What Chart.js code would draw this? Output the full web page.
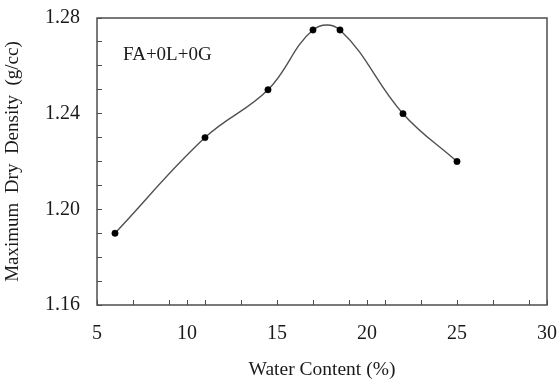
<!DOCTYPE html>
<html>
<head>
<meta charset="utf-8">
<script src="https://cdn.jsdelivr.net/npm/chart.js@4"></script>
<style>
  html, body { margin: 0; padding: 0; background: #ffffff; }
  #wrap { width: 560px; height: 380px; }
</style>
</head>
<body>
<div id="wrap"><canvas id="c" width="560" height="380"></canvas></div>
<script>
// ---- data ----
const waterContent = [6, 11, 14.5, 17, 18.5, 22, 25];
const dryDensity   = [1.19, 1.23, 1.25, 1.275, 1.275, 1.24, 1.22];
const seriesLabel  = 'FA+0L+0G';

// tick positions / labels
const xTickValues   = [5, 7, 9, 10, 11, 13, 15, 17, 19, 20, 21, 23, 25, 27, 29, 30];
const xTickLabels   = [5, 10, 15, 20, 25, 30];
const yTickValues   = [1.16, 1.17, 1.18, 1.19, 1.20, 1.21, 1.22, 1.23, 1.24, 1.25, 1.26, 1.27, 1.28];
const yTickLabels   = ['1.16', '1.20', '1.24', '1.28'];

const xTitle = 'Water Content (%)';
const yTitle = 'Maximum  Dry  Density  (g/cc)';

const points = waterContent.map((x, i) => ({ x: x, y: dryDensity[i] }));
const FONT = "'Liberation Serif', 'DejaVu Serif', serif";

const frame = {
  id: 'frame',
  afterDraw(chart) {
    const a = chart.chartArea, ctx = chart.ctx;
    ctx.save();
    ctx.strokeStyle = '#4d4d4d';
    ctx.lineWidth = 1.5;
    ctx.strokeRect(a.left, a.top, a.right - a.left, a.bottom - a.top);
    ctx.fillStyle = '#1a1a1a';
    ctx.font = '19px ' + FONT;
    ctx.textAlign = 'left';
    ctx.textBaseline = 'middle';
    ctx.fillText(seriesLabel, a.left + 26, a.top + 37);
    ctx.restore();
  }
};

new Chart(document.getElementById('c'), {
  type: 'line',
  data: {
    datasets: [{
      label: seriesLabel,
      data: points,
      borderColor: '#505050',
      borderWidth: 1.4,
      tension: 0.4,
      fill: false,
      pointRadius: 3.2,
      pointBackgroundColor: '#000000',
      pointBorderColor: '#000000',
      pointBorderWidth: 0.5
    }]
  },
  options: {
    responsive: false,
    devicePixelRatio: 1,
    animation: false,
    layout: { padding: { left: 0, right: 13, top: 18, bottom: 0 } },
    plugins: { legend: { display: false }, tooltip: { enabled: false } },
    scales: {
      x: {
        type: 'linear',
        min: 5, max: 30,
        afterBuildTicks(scale) { scale.ticks = xTickValues.map(v => ({ value: v })); },
        afterFit(scale) { scale.height = 75; scale.paddingLeft = 0; scale.paddingRight = 0; },
        border: { display: false },
        grid: { drawOnChartArea: false, drawTicks: true, tickLength: -5, color: '#4d4d4d', lineWidth: 1 },
        ticks: {
          autoSkip: false, maxRotation: 0, padding: 22,
          color: '#1a1a1a',
          font: { family: FONT, size: 20 },
          callback: (v) => xTickLabels.includes(v) ? String(v) : ''
        },
        title: {
          display: true, text: xTitle, color: '#1a1a1a',
          font: { family: FONT, size: 19.5, lineHeight: 1 },
          padding: { top: 0, bottom: 0 }
        }
      },
      y: {
        type: 'linear',
        min: 1.16, max: 1.28,
        afterBuildTicks(scale) { scale.ticks = yTickValues.map(v => ({ value: v })); },
        afterFit(scale) { scale.width = 97; scale.paddingTop = 0; scale.paddingBottom = 0; },
        border: { display: false },
        grid: { drawOnChartArea: false, drawTicks: true, tickLength: -5, color: '#4d4d4d', lineWidth: 1 },
        ticks: {
          autoSkip: false, padding: 22,
          color: '#1a1a1a',
          font: { family: FONT, size: 20 },
          callback: (v) => { const s = Number(v).toFixed(2); return yTickLabels.includes(s) ? s : ''; }
        },
        title: {
          display: true, text: yTitle, color: '#1a1a1a',
          font: { family: FONT, size: 19, lineHeight: 1 },
          padding: { top: 4, bottom: 0 }
        }
      }
    }
  },
  plugins: [frame]
});
</script>
</body>
</html>
